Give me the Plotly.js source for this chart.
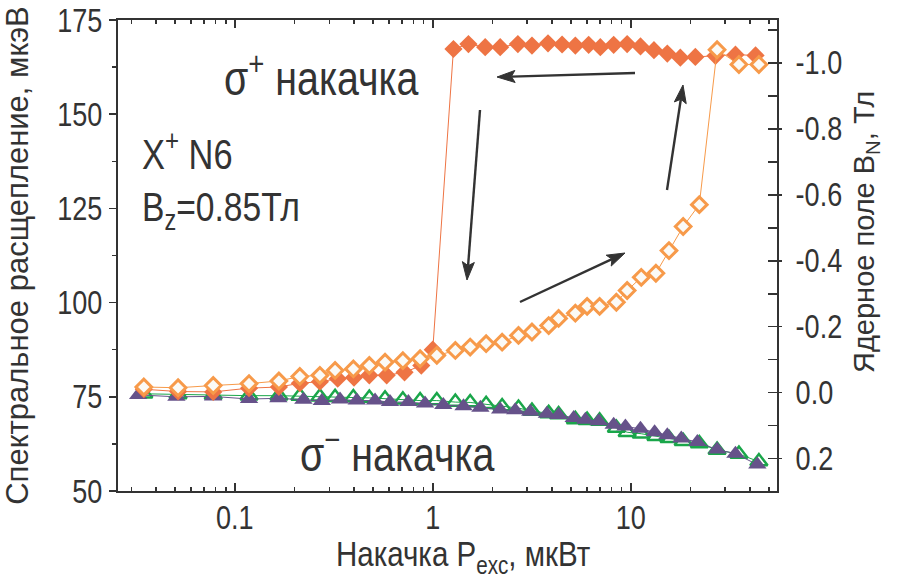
<!DOCTYPE html>
<html>
<head>
<meta charset="utf-8">
<script src="https://cdn.plot.ly/plotly-3.0.1.min.js"></script>
<style>
  html, body { margin: 0; padding: 0; background: #ffffff; }
  #chart { width: 897px; height: 579px; }
</style>
</head>
<body>
<div id="chart"></div>
<script>
// Excitation power, µW, and spectral splitting, µeV

// σ+ pumping, sweep down in power (filled diamonds)
const sigPlusDownP = [0.0347, 0.0517, 0.0778, 0.118, 0.167, 0.213, 0.269, 0.331, 0.40, 0.478, 0.585, 0.72, 0.875, 1.0,
  1.272, 1.514, 1.84, 2.19, 2.69, 3.17, 3.82, 4.50, 5.25, 6.13, 7.02, 8.20, 9.59, 11.2, 13.1, 15.3, 17.8, 21.2, 26.8, 33.8, 42.7];
const sigPlusDownS = [77.0, 76.4, 76.3, 77.3, 77.6, 78.6, 79.0, 79.8, 80.1, 80.7, 80.7, 81.5, 83.3, 87.5,
  167.3, 168.6, 167.8, 167.8, 168.6, 168.2, 168.8, 168.5, 168.2, 168.4, 167.8, 168.4, 168.6, 168.0, 167.0, 166.1, 165.0, 165.2, 165.5, 165.8, 165.6];

// σ+ pumping, sweep up in power (open diamonds)
const sigPlusUpP = [0.0347, 0.0517, 0.0778, 0.118, 0.167, 0.213, 0.269, 0.321, 0.397, 0.478, 0.574, 0.706, 0.863, 1.048,
  1.30, 1.545, 1.86, 2.24, 2.71, 3.17, 3.85, 4.32, 5.25, 6.02, 6.96, 8.46, 9.59, 11.3, 13.4, 15.6, 18.4, 22.2, 27.3, 35.2, 44.4];
const sigPlusUpS = [77.6, 77.4, 78.0, 78.5, 79.2, 80.4, 80.7, 82.0, 82.4, 83.3, 84.2, 84.6, 85.1, 86.0,
  87.3, 88.2, 89.1, 89.5, 91.3, 92.2, 93.9, 95.8, 97.2, 99.0, 99.0, 100.1, 103.2, 106.7, 107.8, 113.8, 120.2, 126.0, 167.1, 163.2, 163.2];

// σ− pumping, sweep up (open triangles)
const sigMinusUpP = sigPlusUpP;
const sigMinusUpS = [75.8, 75.6, 75.5, 75.3, 75.3, 75.2, 75.0, 74.9, 74.8, 74.7, 74.5, 74.2, 74.0, 74.0,
  73.6, 73.5, 73.0, 72.4, 72.0, 71.2, 70.6, 70.3, 69.0, 68.8, 68.6, 66.7, 65.6, 65.2, 64.5, 64.0, 63.2, 62.6, 60.9, 59.8, 57.8];

// σ− pumping, sweep down (filled triangles)
const sigMinusDownP = [0.0325, 0.0507, 0.0777, 0.118, 0.166, 0.222, 0.275, 0.340, 0.413, 0.511, 0.608, 0.753, 0.914,
  1.13, 1.43, 1.74, 2.19, 2.61, 3.11, 3.77, 4.32, 5.15, 5.90, 6.89, 8.20, 9.40, 11.2, 13.2, 15.3, 18.0, 21.7, 27.3, 33.8, 43.6];
const sigMinusDownS = [75.5, 75.0, 75.1, 74.4, 74.6, 74.2, 73.9, 74.3, 74.0, 74.0, 73.6, 73.6, 73.2,
  72.8, 72.5, 72.1, 71.6, 71.4, 71.0, 70.5, 70.2, 69.4, 68.9, 68.5, 67.6, 67.1, 66.5, 65.6, 64.8, 63.9, 63.0, 61.0, 59.9, 57.0];

// Axis ticks
const xTickVals = [0.1, 1, 10];
const xTickText = ['0.1', '1', '10'];
const xMinorVals = [0.03, 0.04, 0.05, 0.06, 0.07, 0.08, 0.09, 0.2, 0.3, 0.4, 0.5, 0.6, 0.7, 0.8, 0.9,
  2, 3, 4, 5, 6, 7, 8, 9, 20, 30, 40, 50];
const yTickVals = [50, 75, 100, 125, 150, 175];
const bnTickVals = [-1.0, -0.8, -0.6, -0.4, -0.2, 0.0, 0.2];
const bnTickText = ['-1.0', '-0.8', '-0.6', '-0.4', '-0.2', '0.0', '0.2'];

const FONT = 'Liberation Sans, Arial, Helvetica, sans-serif';
const NARROW_X = 0.82;   // horizontal squeeze giving a narrow sans face
const INK = '#333333';
const ORANGE = '#ee7444';
const LIGHT_ORANGE = '#f79a4a';
const PURPLE = '#66528a';
const GREEN = '#1aa64a';

const traces = [
  {
    x: sigMinusUpP, y: sigMinusUpS, mode: 'lines+markers', type: 'scatter',
    line: { color: GREEN, width: 1 },
    marker: { symbol: 'triangle-up-open', size: 15, color: GREEN, line: { color: GREEN, width: 2.5 } },
    showlegend: false, hoverinfo: 'x+y'
  },
  {
    x: sigMinusDownP, y: sigMinusDownS, mode: 'lines+markers', type: 'scatter',
    line: { color: PURPLE, width: 1 },
    marker: { symbol: 'triangle-up', size: 16, color: PURPLE, line: { width: 0 } },
    showlegend: false, hoverinfo: 'x+y'
  },
  {
    x: sigPlusDownP, y: sigPlusDownS, mode: 'lines+markers', type: 'scatter',
    line: { color: ORANGE, width: 1 },
    marker: { symbol: 'diamond', size: 14, color: ORANGE, line: { width: 0 } },
    showlegend: false, hoverinfo: 'x+y'
  },
  {
    x: sigPlusUpP, y: sigPlusUpS, mode: 'lines+markers', type: 'scatter',
    line: { color: LIGHT_ORANGE, width: 1 },
    marker: { symbol: 'diamond', size: 12, color: '#fbfaf6', line: { color: LIGHT_ORANGE, width: 3 } },
    showlegend: false, hoverinfo: 'x+y'
  },
  // keeps the nuclear-field axes on the page
  { x: [null], y: [null], yaxis: 'y2', showlegend: false, hoverinfo: 'skip' },
  { x: [null], y: [null], yaxis: 'y3', showlegend: false, hoverinfo: 'skip' }
];

// pixel frame of the plotting area
const W = 897, H = 579;
const L = 118, R = 120, T = 20, B = 88;
const pw = W - L - R, ph = H - T - B;
const px = v => (v - L) / pw;
const py = v => (H - B - v) / ph;

// arrow = shaft line + filled head, head tip at (hx, hy), tail at (tx, ty), in page pixels
function arrowShapes(hx, hy, tx, ty) {
  const len = Math.hypot(hx - tx, hy - ty);
  const ux = (hx - tx) / len, uy = (hy - ty) / len;
  const headLen = 18, headHalf = 6;
  const bx = hx - ux * headLen, by = hy - uy * headLen;
  const nx = -uy, ny = ux;
  const p1 = [bx + nx * headHalf, by + ny * headHalf];
  const p2 = [bx - nx * headHalf, by - ny * headHalf];
  const notch = [hx - ux * headLen * 0.8, hy - uy * headLen * 0.8];
  return [
    { type: 'line', xref: 'paper', yref: 'paper', x0: px(tx), y0: py(ty), x1: px(notch[0]), y1: py(notch[1]),
      line: { color: INK, width: 2.4 } },
    { type: 'path', xref: 'paper', yref: 'paper',
      path: `M ${px(hx)} ${py(hy)} L ${px(p1[0])} ${py(p1[1])} L ${px(notch[0])} ${py(notch[1])} L ${px(p2[0])} ${py(p2[1])} Z`,
      fillcolor: INK, line: { color: INK, width: 1 } }
  ];
}
function label(text, x, y, size, xanchor, angle) {
  return {
    xref: 'paper', yref: 'paper', x: px(x), y: py(y), xanchor: xanchor || 'left', yanchor: 'middle',
    textangle: angle || 0,
    text: text, showarrow: false, font: { family: FONT, size: size, color: INK }
  };
}

const layout = {
  width: W, height: H,
  margin: { l: L, r: R, t: T, b: B, pad: 0 },
  paper_bgcolor: '#ffffff', plot_bgcolor: '#ffffff',
  font: { family: FONT, color: INK },
  showlegend: false,
  xaxis: {
    type: 'log', range: [Math.log10(0.0257), Math.log10(54.8)],
    tickmode: 'array', tickvals: xTickVals, ticktext: xTickText,
    ticks: 'inside', ticklen: 8, tickwidth: 1.5, tickcolor: INK,
    minor: { tickmode: 'array', tickvals: xMinorVals, ticks: 'inside', ticklen: 4, tickwidth: 1.5, tickcolor: INK, showgrid: false },
    showline: true, linecolor: INK, linewidth: 2, mirror: 'ticks',
    showgrid: false, zeroline: false,
    tickfont: { family: FONT, size: 33, color: INK },
    ticklabelstandoff: -4, ticklabeloverflow: 'allow'
  },
  yaxis: {
    range: [50, 175],
    tickmode: 'array', tickvals: yTickVals,
    ticks: 'outside', ticklen: 7, tickwidth: 1.5, tickcolor: INK,
    minor: { dtick: 12.5, ticks: 'outside', ticklen: 4, tickwidth: 1.5, tickcolor: INK, showgrid: false },
    showline: true, linecolor: INK, linewidth: 2, mirror: false,
    showgrid: false, zeroline: false,
    tickfont: { family: FONT, size: 33, color: INK },
    ticklabeloverflow: 'allow',
    title: { text: 'Спектральное расщепление, мкэВ', font: { family: FONT, size: 31, color: INK }, standoff: 12 }
  },
  yaxis2: {
    overlaying: 'y', side: 'right', range: [0.298, -1.13],
    tickmode: 'array', tickvals: bnTickVals, ticktext: bnTickText,
    ticks: 'inside', ticklen: 9, tickwidth: 1.5, tickcolor: INK,
    minor: { dtick: 0.1, ticks: 'inside', ticklen: 9, tickwidth: 1.5, tickcolor: INK, showgrid: false },
    showline: true, linecolor: INK, linewidth: 2,
    showgrid: false, zeroline: false,
    tickfont: { family: FONT, size: 33, color: INK },
    ticklabelstandoff: 10, ticklabeloverflow: 'allow'
  },
  yaxis3: {
    overlaying: 'y', side: 'right', range: [0.298, -1.13],
    tickmode: 'array', tickvals: bnTickVals,
    ticks: 'outside', ticklen: 4, tickwidth: 1.5, tickcolor: INK,
    showticklabels: false, showline: false, showgrid: false, zeroline: false
  },
  annotations: [
    label('σ<sup>+</sup> накачка', 222, 75, 48),
    label('X<sup>+</sup> N6', 140, 151, 42),
    label('B<sub>z</sub>=0.85Тл', 140, 210, 41),
    label('σ<sup>−</sup> накачка', 298, 451, 48),
    // axis titles placed by hand
    label('Накачка P<sub>exc</sub>, мкВт', 463, 556, 36, 'center'),
    label('Ядерное поле B<sub>N</sub>, Тл', 866, 232, 29, 'center', -90)
  ],
  shapes: [].concat(
    arrowShapes(497, 77, 635, 73),
    arrowShapes(467, 280, 480, 110),
    arrowShapes(683, 85, 667, 190),
    arrowShapes(625, 253, 520, 302)
  )
};

// squeeze horizontal texts to a narrow face, keeping each one's anchor edge in place
function narrowTexts(gd) {
  const anns = gd.layout.annotations || [];
  const sel = 'g.xtick > text, g.ytick > text, g.y2tick > text, text.annotation-text';
  gd.querySelectorAll(sel).forEach(t => {
    const bb = t.getBBox();
    let ax;
    if (t.classList.contains('annotation-text')) {
      const g = t.closest('g.annotation');
      const a = anns[+g.getAttribute('data-index')] || {};
      if (a.textangle) return;
      ax = a.xanchor === 'left' ? bb.x : bb.x + bb.width / 2;
    } else {
      const anchor = t.getAttribute('text-anchor') || 'start';
      if (anchor === 'end') ax = bb.x + bb.width;
      else if (anchor === 'middle') ax = bb.x + bb.width / 2;
      else ax = bb.x;
    }
    const prev = t.getAttribute('transform') || '';
    t.setAttribute('transform', `${prev} translate(${ax},0) scale(${NARROW_X},1) translate(${-ax},0)`.trim());
  });
}

Plotly.newPlot('chart', traces, layout, { displayModeBar: false, staticPlot: true })
  .then(gd => narrowTexts(gd));
</script>
</body>
</html>
